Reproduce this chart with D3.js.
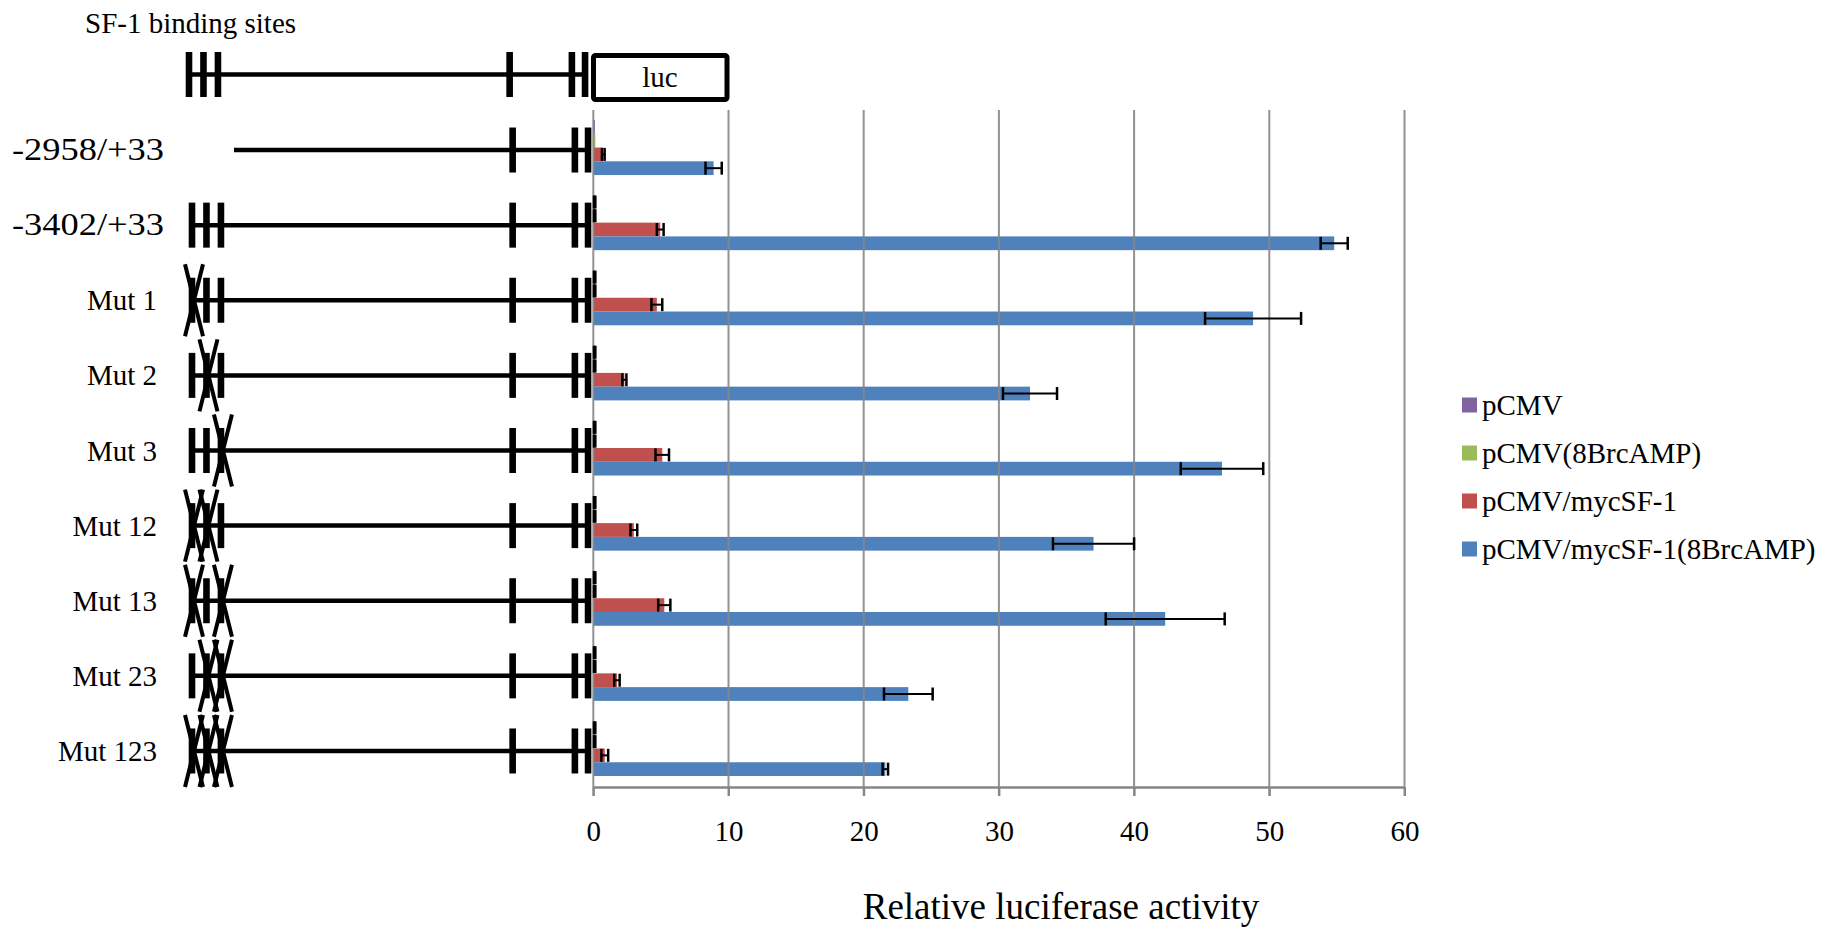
<!DOCTYPE html>
<meta charset="utf-8">
<title>SF-1 binding sites - Relative luciferase activity</title>
<style>
  body { margin: 0; background: #fff; }
  text { font-family: "Liberation Serif", "Times New Roman", serif; fill: #000; }
</style>
<body>
<script src="https://d3js.org/d3.v7.min.js"></script>
<script>

    // constructs (one row each)
    const categories = ["-2958/+33", "-3402/+33", "Mut 1", "Mut 2", "Mut 3", "Mut 12", "Mut 13", "Mut 23", "Mut 123"];
    const series = ["pCMV", "pCMV(8BrcAMP)", "pCMV/mycSF-1", "pCMV/mycSF-1(8BrcAMP)"];
    const colors = ["#8064A2", "#9BBB59", "#C0504D", "#4F81BD"];

    // values
    const pCMV          = [0.12, 0.10, 0.10, 0.10, 0.10, 0.10, 0.10, 0.10, 0.10];
    const pCMV_err      = [0,    0.05, 0.05, 0.05, 0.05, 0.05, 0.05, 0.05, 0.05];
    const pCMV8Br       = [0.15, 0.10, 0.10, 0.10, 0.10, 0.10, 0.10, 0.10, 0.10];
    const pCMV8Br_err   = [0,    0.05, 0.05, 0.05, 0.05, 0.05, 0.05, 0.05, 0.05];
    const mycSF1        = [0.74, 4.95, 4.70, 2.30, 5.10, 3.00, 5.25, 1.75, 0.85];
    const mycSF1_err    = [0.10, 0.25, 0.40, 0.15, 0.50, 0.25, 0.45, 0.20, 0.25];
    const mycSF18Br     = [8.9, 54.8, 48.8, 32.3, 46.5, 37.0, 42.3, 23.3, 21.6];
    const mycSF18Br_err = [0.6,  1.0,  3.55, 2.0, 3.05, 3.0,  4.4,  1.8,  0.2];

    const xTicks = [0, 10, 20, 30, 40, 50, 60];

    // promoter schematic: SF-1 sites (bp), start of each construct, mutated sites
    const sites = [-3402, -3249, -3096, -630, -110, 0];
    const starts = [-2958, -3402, -3402, -3402, -3402, -3402, -3402, -3402, -3402];
    const mutated = [[], [], [0], [1], [2], [0, 1], [0, 2], [1, 2], [0, 1, 2]];

    const values = [pCMV, pCMV8Br, mycSF1, mycSF18Br];
    const errors = [pCMV_err, pCMV8Br_err, mycSF1_err, mycSF18Br_err];

    var width = 1826,
        height = 930;

    var svg = d3.select("body").append("svg")
        .attr("width", width)
        .attr("height", height);

    var x = d3.scaleLinear()
        .domain([0, 60])
        .range([593.3, 1404.5]);

    var y0 = d3.scaleBand()
        .domain(categories)
        .range([110, 786])
        .paddingInner(0.267)
        .paddingOuter(0.133);

    var y1 = d3.scaleBand()
        .domain(series)
        .range([0, y0.bandwidth()]);

    // bp -> px for the schematic (not to scale, piecewise like the drawing)
    var bp = d3.scaleLinear()
        .domain([-3402, -2958, 33])
        .range([192, 234, 592]);

    // ---- bars
    var rows = [];
    categories.forEach(function(c, i) {
        series.forEach(function(s, j) {
            rows.push({cat: c, ser: s, j: j, v: values[j][i], e: errors[j][i]});
        });
    });

    svg.append("g")
      .selectAll("rect")
      .data(rows)
      .join("rect")
        .attr("x", x(0))
        .attr("y", d => y0(d.cat) + y1(d.ser))
        .attr("width", d => x(d.v) - x(0))
        .attr("height", y1.bandwidth())
        .attr("fill", d => colors[d.j]);

    // ---- gridlines (over the bars, as in the source)
    svg.append("g")
      .selectAll("line")
      .data(xTicks)
      .join("line")
        .attr("x1", d => x(d)).attr("x2", d => x(d))
        .attr("y1", 110).attr("y2", 796)
        .attr("stroke", "#868686")
        .attr("stroke-opacity", 0.9)
        .attr("stroke-width", 2);

    // ---- error bars
    var eb = svg.append("g")
        .attr("stroke", "#000")
        .attr("stroke-width", 2);
    var withErr = rows.filter(d => d.e > 0);
    eb.selectAll("line.h")
      .data(withErr)
      .join("line")
        .attr("class", "h")
        .attr("x1", d => x(d.v - d.e)).attr("x2", d => x(d.v + d.e))
        .attr("y1", d => y0(d.cat) + y1(d.ser) + y1.bandwidth() / 2)
        .attr("y2", d => y0(d.cat) + y1(d.ser) + y1.bandwidth() / 2);
    [-1, 1].forEach(function(sign) {
        eb.selectAll("line.c" + (sign + 1))
          .data(withErr)
          .join("line")
            .attr("class", "c" + (sign + 1))
            .attr("stroke-width", 2.5)
            .attr("x1", d => x(d.v + sign * d.e)).attr("x2", d => x(d.v + sign * d.e))
            .attr("y1", d => y0(d.cat) + y1(d.ser) + y1.bandwidth() / 2 - 6.5)
            .attr("y2", d => y0(d.cat) + y1(d.ser) + y1.bandwidth() / 2 + 6.5);
    });

    // ---- x axis
    var axis = svg.append("g")
        .attr("transform", "translate(0,787)")
        .call(d3.axisBottom(x).tickValues(xTicks).tickSize(9).tickSizeOuter(0).tickPadding(24));
    axis.select(".domain").attr("stroke", "#868686").attr("stroke-width", 2.5);
    axis.selectAll(".tick line").attr("stroke", "#868686").attr("stroke-width", 2);
    axis.selectAll(".tick text")
        .style("font-family", '"Liberation Serif", "Times New Roman", serif')
        .style("font-size", "29px")
        .attr("fill", "#000");

    svg.append("text")
        .attr("x", 1061)
        .attr("y", 919)
        .attr("text-anchor", "middle")
        .style("font-size", "37px")
        .text("Relative luciferase activity");

    // ---- legend
    var legend = svg.append("g")
      .selectAll("g")
      .data(series)
      .join("g")
        .attr("transform", (d, i) => `translate(1462,${405 + i * 48})`);
    legend.append("rect")
        .attr("x", 0).attr("y", -7.5)
        .attr("width", 15).attr("height", 15)
        .attr("fill", (d, i) => colors[i]);
    legend.append("text")
        .attr("x", 20).attr("y", 10)
        .style("font-size", "29px")
        .text(d => d);

    // ---- promoter schematics
    svg.append("text")
        .attr("x", 85).attr("y", 33)
        .style("font-size", "29px")
        .text("SF-1 binding sites");

    function drawConstruct(g, cy, start, muts) {
        g.append("line")
            .attr("x1", bp(start)).attr("x2", bp(33) - 1)
            .attr("y1", cy).attr("y2", cy)
            .attr("stroke", "#000").attr("stroke-width", 4.5);
        sites.filter(s => s >= start).forEach(function(s) {
            g.append("rect")
                .attr("x", bp(s) - 3.3).attr("y", cy - 22.5)
                .attr("width", 6.6).attr("height", 45)
                .attr("fill", "#000");
        });
        muts.forEach(function(k) {
            var cx = bp(sites[k]) + 2;
            g.append("path")
                .attr("d", `M${cx - 9},${cy - 36}L${cx + 9},${cy + 36}M${cx + 9},${cy - 36}L${cx - 9},${cy + 36}`)
                .attr("stroke", "#000").attr("stroke-width", 4)
                .attr("fill", "none");
        });
    }

    var topG = svg.append("g").attr("transform", "translate(-3,0)");
    drawConstruct(topG, 74.5, -3402, []);
    svg.append("rect")
        .attr("x", 593.5).attr("y", 55.5)
        .attr("width", 133.5).attr("height", 44)
        .attr("rx", 2)
        .attr("fill", "#fff")
        .attr("stroke", "#000").attr("stroke-width", 5);
    svg.append("text")
        .attr("x", 660).attr("y", 87)
        .attr("text-anchor", "middle")
        .style("font-size", "29px")
        .text("luc");

    categories.forEach(function(c, i) {
        var cy = y0(c) + y0.bandwidth() / 2 + 2.5;
        drawConstruct(svg.append("g"), cy, starts[i], mutated[i]);
        var t = svg.append("text")
            .attr("x", i < 2 ? 12 : 157)
            .attr("y", cy + 10)
            .attr("text-anchor", i < 2 ? "start" : "end")
            .style("font-size", i < 2 ? "31px" : "29px")
            .text(c);
        if (i < 2) t.attr("textLength", 152).attr("lengthAdjust", "spacingAndGlyphs");
    });

</script>
</body>
